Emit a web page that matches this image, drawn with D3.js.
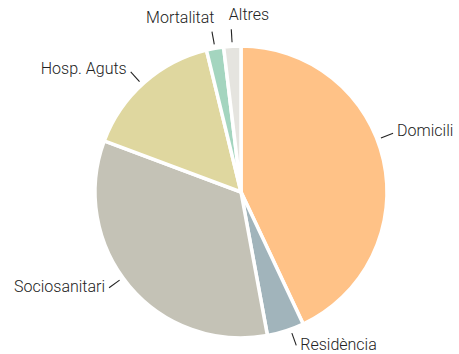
<!DOCTYPE html>
<html>
<head>
<meta charset="utf-8">
<script src="https://cdn.jsdelivr.net/npm/d3@7"></script>
<style>
  html, body { margin: 0; padding: 0; background: #fff; }
  svg { display: block; }
  .lbl { font-family: Roboto, "Noto Sans", sans-serif; font-size: 16px; font-weight: 300; fill: #222; }
</style>
</head>
<body>
<svg id="chart" width="459" height="354"></svg>
<script>
// Categories and their shares (%), clockwise from 12 o'clock
const categories = ["Domicili", "Residència", "Sociosanitari", "Hosp. Aguts", "Mortalitat", "Altres"];
const shares = [43.0, 4.1, 33.6, 15.5, 1.9, 1.9];
const colors = ["#ffc287", "#a1b4bb", "#c4c2b6", "#dfd79f", "#a4d5bf", "#e5e4df"];

const width = 459, height = 354;
const cx = 241, cy = 192, radius = 146;

// Small angular corrections (degrees) so labels sit clear of neighbours
const labelShift = { "Domicili": -8.5, "Sociosanitari": 4, "Residència": -2, "Hosp. Aguts": -1 };

const data = categories.map((c, i) => ({ name: c, value: shares[i], color: colors[i] }));

const svg = d3.select("#chart");
const g = svg.append("g").attr("transform", `translate(${cx},${cy})`);

const pie = d3.pie().value(d => d.value).sort(null);
const arc = d3.arc().innerRadius(0).outerRadius(radius);
const arcs = pie(data);

g.selectAll("path.slice")
  .data(arcs)
  .join("path")
  .attr("class", "slice")
  .attr("d", arc)
  .attr("fill", d => d.data.color)
  .attr("stroke", "#fff")
  .attr("stroke-width", 3.5)
  .attr("stroke-linejoin", "round");

const polar = (r, a) => [Math.sin(a) * r, -Math.cos(a) * r];

arcs.forEach(d => {
  const a = (d.startAngle + d.endAngle) / 2 + (labelShift[d.data.name] || 0) * Math.PI / 180;
  const p0 = polar(radius + 4, a);
  const p1 = polar(radius + 17, a);
  g.append("line")
    .attr("x1", p0[0]).attr("y1", p0[1])
    .attr("x2", p1[0]).attr("y2", p1[1])
    .attr("stroke", "#222").attr("stroke-width", 1.1);

  const s = Math.sin(a), c = Math.cos(a);
  const nearTop = Math.abs(s) < 0.25 && c > 0;
  let anchor = s >= 0 ? "start" : "end";
  if (nearTop && s > -0.1) anchor = "start";
  const dir = anchor === "start" ? 1 : -1;
  const dx = nearTop ? -dir * 2.5 : dir * 4;
  const dy = -2 * c - (nearTop ? 10 : 0) - 2.5;
  g.append("text")
    .attr("class", "lbl")
    .attr("x", p1[0] + dx)
    .attr("y", p1[1] + dy)
    .attr("text-anchor", anchor)
    .attr("dominant-baseline", "central")
    .text(d.data.name);
});
</script>
</body>
</html>
